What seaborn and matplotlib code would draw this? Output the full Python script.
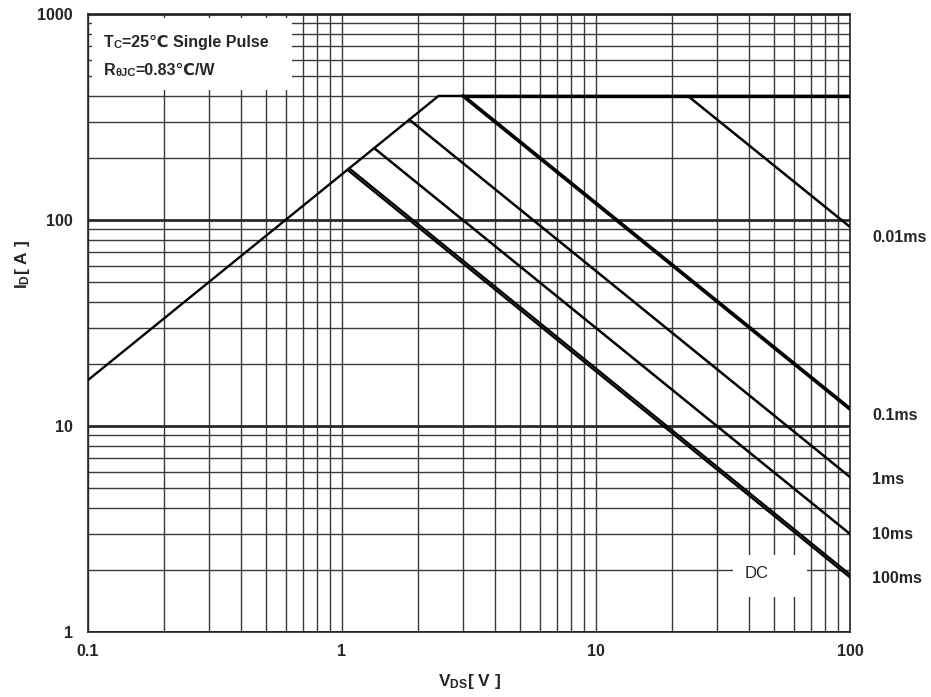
import matplotlib
matplotlib.use("Agg")
import matplotlib.pyplot as plt
import matplotlib.transforms as mtransforms
from matplotlib.patches import Rectangle
from matplotlib.ticker import FixedLocator, FixedFormatter, NullFormatter
import pandas as pd
import seaborn as sns

# SOA envelope: Rds(on) limit then 400 A package limit
limit_v = [0.1, 2.4, 100]
limit_i = [16.7, 400, 400]

# pulse lines: start point -> end point at 100 V
pulse_names = ["0.01ms", "0.1ms", "1ms", "10ms", "100ms", "DC"]
pulse_v0 = [23, 3.0, 1.84, 1.34, 1.068, 1.051]
pulse_i0 = [400, 400, 307, 223, 178, 175]
pulse_v1 = [100, 100, 100, 100, 100, 100]
pulse_i1 = [92.5, 12.1, 5.65, 2.99, 1.9, 1.84]

x_ticks = [0.1, 1, 10, 100]
x_ticklabels = ["0.1", "1", "10", "100"]
y_ticks = [1, 10, 100, 1000]
y_ticklabels = ["1", "10", "100", "1000"]

sns.set_style("white")
plt.rcParams['font.family'] = ['Liberation Sans', 'DejaVu Sans']
plt.rcParams['mathtext.fontset'] = 'custom'
plt.rcParams['mathtext.rm'] = 'Liberation Sans:bold'
plt.rcParams['mathtext.default'] = 'regular'

fig, ax = plt.subplots(figsize=(9.31, 6.97), dpi=100)
fig.subplots_adjust(left=0.0945, right=0.913, bottom=0.0933, top=0.980)

ax.set_xscale("log")
ax.set_yscale("log")
ax.set_xlim(0.1, 100)
ax.set_ylim(1, 1000)

# envelope
env = pd.DataFrame({"V": limit_v, "I": limit_i})
sns.lineplot(data=env, x="V", y="I", sort=False, color="black", lw=1.7, ax=ax, zorder=3)

# pulse lines
widths = [1.8, 2.7, 1.8, 1.8, 1.6, 1.6]
for name, v0, i0, v1, i1, w in zip(pulse_names, pulse_v0, pulse_i0, pulse_v1, pulse_i1, widths):
    d = pd.DataFrame({"V": [v0, v1], "I": [i0, i1]})
    sns.lineplot(data=d, x="V", y="I", sort=False, color="black", lw=w, ax=ax, zorder=3)

# heavier 400 A line after 0.1ms corner
top = pd.DataFrame({"V": [pulse_v0[1], 100], "I": [400, 400]})
sns.lineplot(data=top, x="V", y="I", sort=False, color="black", lw=2.4, ax=ax, zorder=3)

# grid
ax.xaxis.set_major_locator(FixedLocator(x_ticks))
ax.xaxis.set_major_formatter(FixedFormatter(x_ticklabels))
ax.yaxis.set_major_locator(FixedLocator(y_ticks))
ax.yaxis.set_major_formatter(FixedFormatter(y_ticklabels))
ax.xaxis.set_minor_formatter(NullFormatter())
ax.yaxis.set_minor_formatter(NullFormatter())
ax.set_axisbelow(True)
ax.grid(True, which="both", axis="x", color="#3a3a3a", lw=1.0)
ax.grid(True, which="minor", axis="y", color="#3a3a3a", lw=1.0)
ax.grid(True, which="major", axis="y", color="#2a2a2a", lw=2.0)
ax.tick_params(which="both", length=0)
ax.tick_params(axis="x", pad=9, labelsize=11.5)
ax.tick_params(axis="y", pad=11, labelsize=11.5)
for lab in ax.get_xticklabels() + ax.get_yticklabels():
    lab.set_fontweight("bold")

for s in ax.spines.values():
    s.set_color("#222222")
    s.set_linewidth(1.2)

ax.set_xlabel(r"V$_\mathregular{DS}$[ V ]", fontsize=12.5, fontweight="bold")
ax.set_ylabel(r"I$_\mathregular{D}$[ A ]", fontsize=12.5, fontweight="bold")
ax.xaxis.set_label_coords(0.501, -0.064)
ax.yaxis.set_label_coords(-0.074, 0.594)

# white box with conditions
ax.add_patch(Rectangle((0.005, 0.877), 0.263, 0.117, transform=ax.transAxes,
                       fc="white", ec="none", zorder=1))
fs, fs_sub = 11.5, 8
t = ax.text(0.021, 0.953, "T", transform=ax.transAxes, fontsize=fs,
            fontweight="bold", va="center", ha="left", zorder=4)
t = ax.annotate("C", xy=(1, 0), xycoords=t, va="bottom", ha="left",
                fontsize=fs_sub, fontweight="bold", zorder=4)
ax.annotate("=25℃ Single Pulse", xy=(1, 0), xycoords=t, va="bottom", ha="left",
            fontsize=fs, fontweight="bold", zorder=4)
t = ax.text(0.021, 0.908, "R", transform=ax.transAxes, fontsize=fs,
            fontweight="bold", va="center", ha="left", zorder=4)
t = ax.annotate("θJC", xy=(1, 0), xycoords=t, va="bottom", ha="left",
                fontsize=fs_sub, fontweight="bold", zorder=4)
ax.annotate("=0.83℃/W", xy=(1, 0), xycoords=t, va="bottom", ha="left",
            fontsize=fs, fontweight="bold", zorder=4)

# curve labels at the right
trans = mtransforms.blended_transform_factory(ax.transAxes, ax.transData)
label_y = [82, 11.3, 5.5, 2.96, 1.81]
for name, yy in zip(pulse_names[:5], label_y):
    ax.text(1.029, yy, name, transform=trans, fontsize=11.5, fontweight="bold",
            va="center", ha="left")

# DC label in its white patch
ax.add_patch(Rectangle((0.846, 0.057), 0.098, 0.068, transform=ax.transAxes,
                       fc="white", ec="none", zorder=1))
ax.text(43, 1.93, "DC", fontsize=12, va="center", ha="center", zorder=4)

fig.savefig("out.png", dpi=100)
